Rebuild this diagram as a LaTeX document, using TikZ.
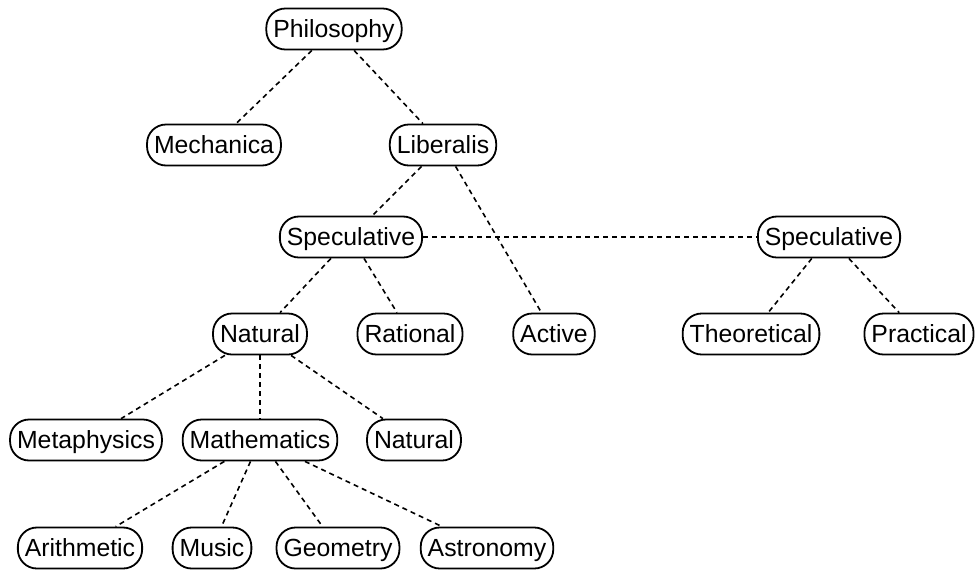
\documentclass[tikz,border=0pt]{standalone}
\usepackage{fontspec}
\setmainfont{Liberation Sans}
\begin{document}
\begin{tikzpicture}[x=1pt,y=-1pt,
  box/.style={draw, line width=1.8pt, rounded corners=19pt, minimum height=41pt,
    text height=17.5pt, text depth=0pt,
    inner xsep=7pt, fill=white, font=\fontsize{24.8}{27}\selectfont},
  link/.style={dash pattern=on 5pt off 4pt, line width=1.6pt}]
\useasboundingbox (0,0) rectangle (976,571);
\node[box] (phil) at (334,29) {Philosophy};
\node[box] (mech) at (214,145) {Mechanica};
\node[box] (lib) at (443,145) {Liberalis};
\node[box] (specl) at (351,237) {Speculative};
\node[box] (specr) at (829,237) {Speculative};
\node[box] (nat) at (260,334) {Natural};
\node[box] (rat) at (410,334) {Rational};
\node[box] (act) at (554,334) {Active};
\node[box] (theo) at (751,334) {Theoretical};
\node[box] (prac) at (919,334) {Practical};
\node[box] (meta) at (86,440) {Metaphysics};
\node[box] (math) at (260,440) {Mathematics};
\node[box] (nat2) at (414,440) {Natural};
\node[box] (arith) at (80,548) {Arithmetic};
\node[box] (music) at (212,548) {Music};
\node[box] (geo) at (338,548) {Geometry};
\node[box] (astro) at (487,548) {Astronomy};
\draw[link] (phil) -- (mech);
\draw[link] (phil) -- (lib);
\draw[link] (lib) -- (specl);
\draw[link] (lib) -- (act);
\draw[link] (specl) -- (specr);
\draw[link] (specl) -- (nat);
\draw[link] (specl) -- (rat);
\draw[link] (specr) -- (theo);
\draw[link] (specr) -- (prac);
\draw[link] (nat) -- (meta);
\draw[link] (nat) -- (math);
\draw[link] (nat) -- (nat2);
\draw[link] (math) -- (arith);
\draw[link] (math) -- (music);
\draw[link] (math) -- (geo);
\draw[link] (math) -- (astro);
\end{tikzpicture}
\end{document}
